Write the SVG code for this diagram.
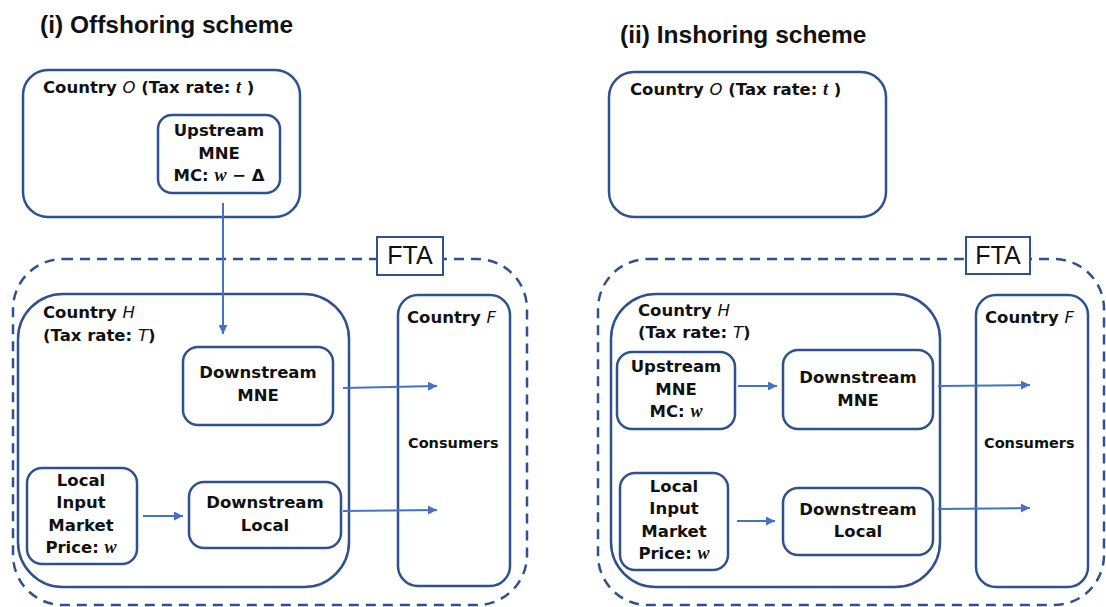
<svg xmlns="http://www.w3.org/2000/svg" width="1106" height="607" viewBox="0 0 1106 607">
<defs>
<style>
.box{fill:none;stroke:#2F528F;stroke-width:2.5}
.dash{fill:none;stroke:#2F528F;stroke-width:2.5;stroke-dasharray:10 7}
.fta{fill:#fff;stroke:#2F528F;stroke-width:2}
.con{fill:none;stroke:#4472C4;stroke-width:2}
.t{font-family:"DejaVu Sans",sans-serif;font-weight:bold;font-size:16.5px;fill:#111}
.c{text-anchor:middle}
.s{font-size:14.5px}
.it{font-style:italic;font-weight:normal}
.m{font-family:"Liberation Serif",serif;font-style:italic;font-weight:bold;font-size:18px}
.title{font-family:"Liberation Sans",sans-serif;font-weight:bold;font-size:24.5px;fill:#111}
.ftat{font-family:"Liberation Sans",sans-serif;font-size:25px;fill:#111;text-anchor:middle}
</style>
<marker id="ah" viewBox="0 0 10 10" refX="10" refY="5" markerWidth="4.5" markerHeight="4.5" orient="auto" markerUnits="strokeWidth">
<path d="M0,0 L10,5 L0,10 z" fill="#4472C4"/>
</marker>
</defs>

<text class="title" x="40" y="33">(i) Offshoring scheme</text>
<text class="title" x="620" y="43">(ii) Inshoring scheme</text>

<!-- Left panel -->
<g id="fta-left">
<rect class="dash" x="13" y="259" width="514" height="346" rx="50"/>
<rect class="fta" x="377" y="237" width="66" height="38"/>
<text class="ftat" x="410" y="264">FTA</text>
</g>
<g id="countryO-left">
<rect class="box" x="23" y="70" width="277" height="147" rx="25"/>
<text class="t" x="43" y="93">Country <tspan class="it">O</tspan> (Tax rate: <tspan class="m">t</tspan> )</text>
</g>
<g id="upstream-left">
<rect class="box" x="158" y="115" width="122" height="78" rx="14"/>
<text class="t c" x="219" y="136">Upstream</text>
<text class="t c" x="219" y="159">MNE</text>
<text class="t c" x="219" y="181">MC: <tspan class="m">w</tspan> − Δ</text>
</g>
<g id="countryH-left">
<rect class="box" x="18" y="294" width="331" height="293" rx="45"/>
<text class="t" x="43" y="318">Country <tspan class="it">H</tspan></text>
<text class="t" x="43" y="341">(Tax rate: <tspan class="it">T</tspan>)</text>
</g>
<g id="downmne-left">
<rect class="box" x="183" y="347" width="150" height="78" rx="15"/>
<text class="t c" x="258" y="378">Downstream</text>
<text class="t c" x="258" y="401">MNE</text>
</g>
<g id="localinput-left">
<rect class="box" x="27" y="468" width="110" height="96" rx="15"/>
<text class="t c" x="81" y="486">Local</text>
<text class="t c" x="81" y="508">Input</text>
<text class="t c" x="81" y="531">Market</text>
<text class="t c" x="81" y="553">Price: <tspan class="m">w</tspan></text>
</g>
<g id="downlocal-left">
<rect class="box" x="189" y="482" width="152" height="66" rx="15"/>
<text class="t c" x="265" y="508">Downstream</text>
<text class="t c" x="265" y="531">Local</text>
</g>
<g id="countryF-left">
<rect class="box" x="398" y="295" width="112" height="291" rx="20"/>
<text class="t" x="407" y="323">Country <tspan class="it">F</tspan></text>
<text class="t s" x="408" y="448">Consumers</text>
</g>

<!-- Right panel -->
<g id="fta-right">
<rect class="dash" x="598" y="259" width="506" height="346" rx="50"/>
<rect class="fta" x="966" y="237" width="64" height="37"/>
<text class="ftat" x="998" y="264">FTA</text>
</g>
<g id="countryO-right">
<rect class="box" x="609" y="72" width="277" height="145" rx="25"/>
<text class="t" x="630" y="95">Country <tspan class="it">O</tspan> (Tax rate: <tspan class="m">t</tspan> )</text>
</g>
<g id="countryH-right">
<rect class="box" x="611" y="294" width="329" height="293" rx="45"/>
<text class="t" x="638" y="316">Country <tspan class="it">H</tspan></text>
<text class="t" x="638" y="338">(Tax rate: <tspan class="it">T</tspan>)</text>
</g>
<g id="upstream-right">
<rect class="box" x="617" y="352" width="118" height="77" rx="15"/>
<text class="t c" x="676" y="372">Upstream</text>
<text class="t c" x="676" y="395">MNE</text>
<text class="t c" x="676" y="417">MC: <tspan class="m">w</tspan></text>
</g>
<g id="downmne-right">
<rect class="box" x="783" y="350" width="150" height="79" rx="15"/>
<text class="t c" x="858" y="383">Downstream</text>
<text class="t c" x="858" y="406">MNE</text>
</g>
<g id="localinput-right">
<rect class="box" x="620" y="473" width="108" height="97" rx="15"/>
<text class="t c" x="674" y="492">Local</text>
<text class="t c" x="674" y="514">Input</text>
<text class="t c" x="674" y="537">Market</text>
<text class="t c" x="674" y="559">Price: <tspan class="m">w</tspan></text>
</g>
<g id="downlocal-right">
<rect class="box" x="783" y="488" width="150" height="67" rx="15"/>
<text class="t c" x="858" y="515">Downstream</text>
<text class="t c" x="858" y="537">Local</text>
</g>
<g id="countryF-right">
<rect class="box" x="976" y="295" width="112" height="292" rx="20"/>
<text class="t" x="985" y="323">Country <tspan class="it">F</tspan></text>
<text class="t s" x="984" y="448">Consumers</text>
</g>

<g id="connectors">
<line class="con" x1="223" y1="203" x2="223" y2="334" marker-end="url(#ah)"/>
<line class="con" x1="343" y1="388" x2="437" y2="386" marker-end="url(#ah)"/>
<line class="con" x1="143" y1="516" x2="183" y2="516" marker-end="url(#ah)"/>
<line class="con" x1="343" y1="511" x2="437" y2="510" marker-end="url(#ah)"/>
<line class="con" x1="738" y1="386" x2="777" y2="386" marker-end="url(#ah)"/>
<line class="con" x1="737" y1="521" x2="775" y2="521" marker-end="url(#ah)"/>
<line class="con" x1="938" y1="386" x2="1030" y2="385" marker-end="url(#ah)"/>
<line class="con" x1="938" y1="509" x2="1030" y2="508" marker-end="url(#ah)"/>
</g>
</svg>
